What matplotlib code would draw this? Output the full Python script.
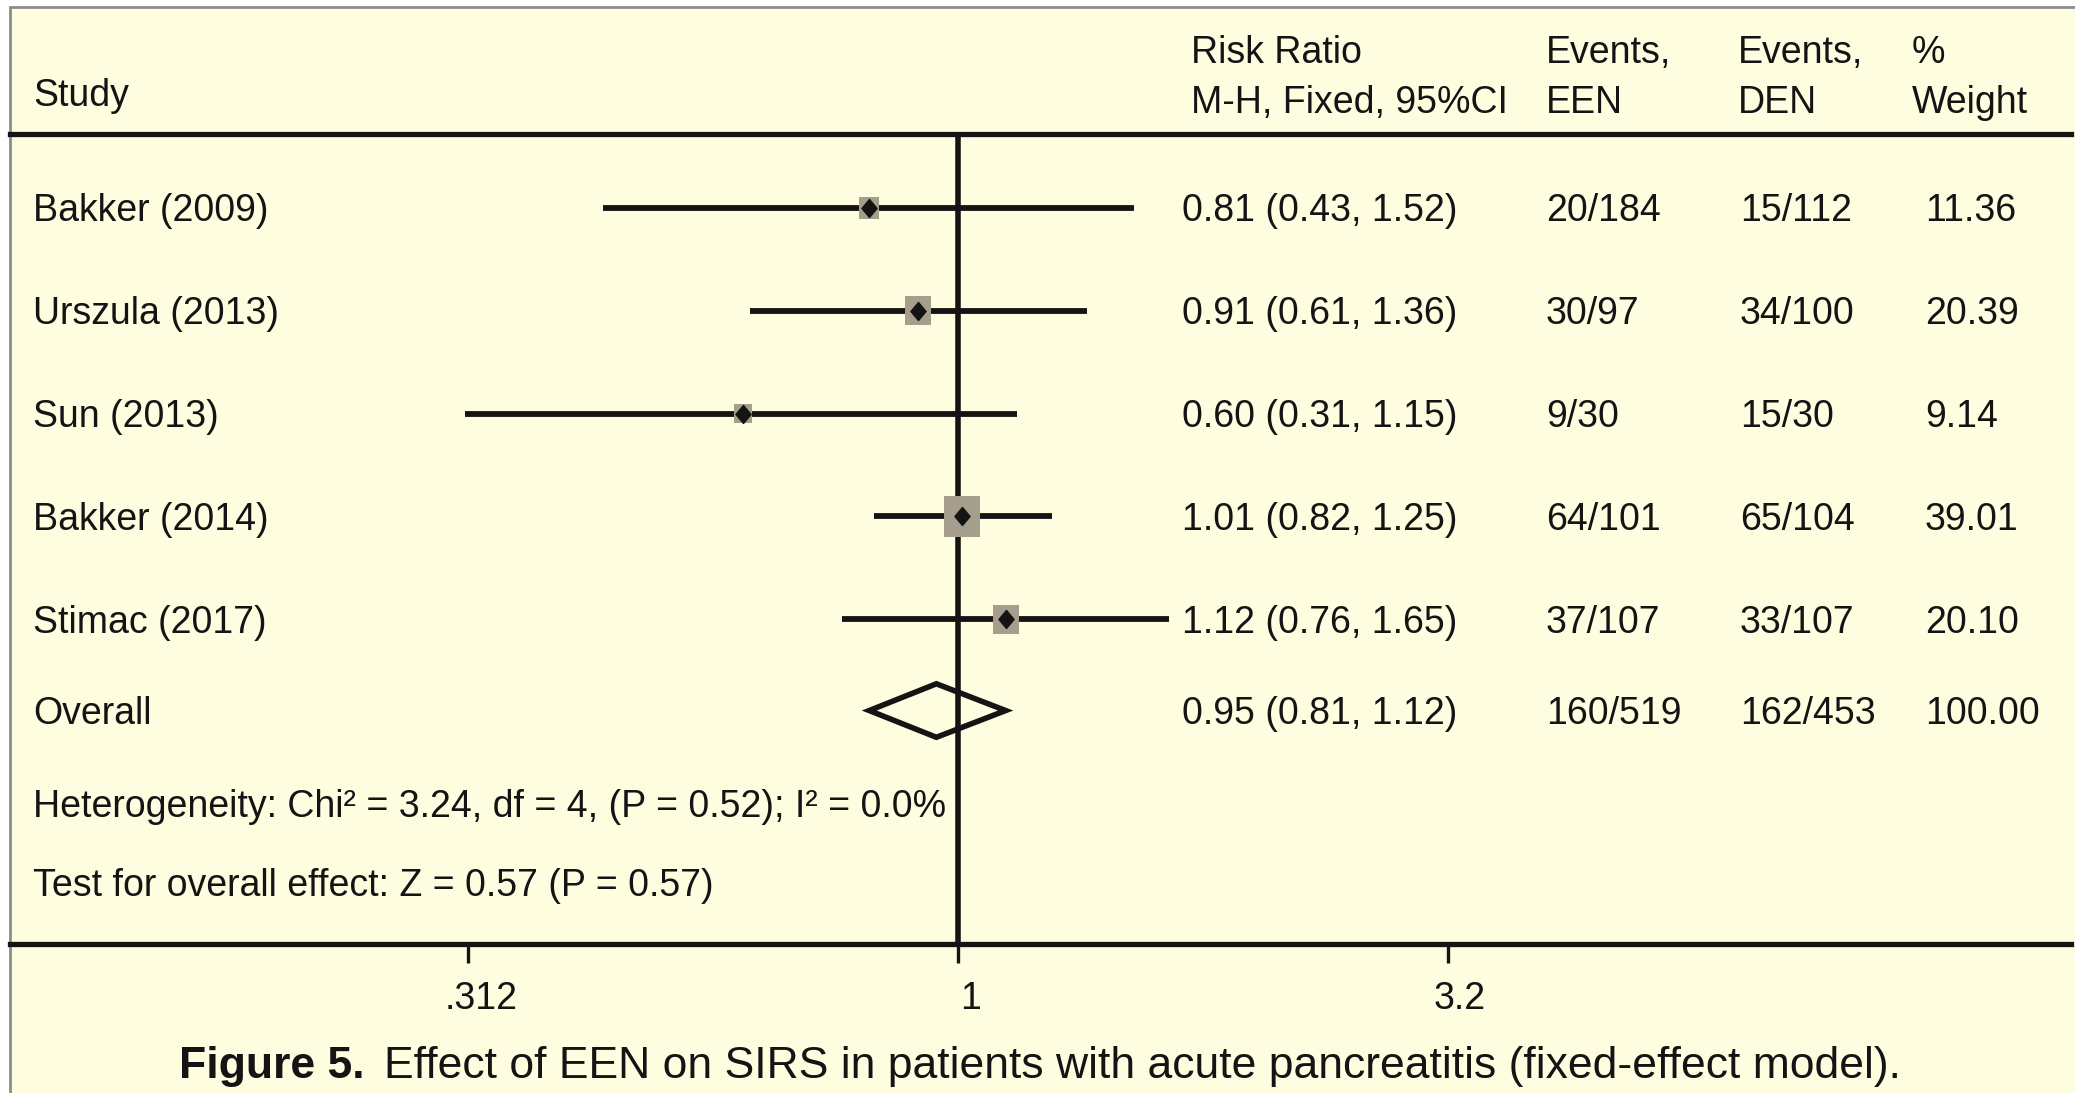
import numpy as np
import matplotlib
matplotlib.use('Agg')
import matplotlib.pyplot as plt
import matplotlib.transforms as mtransforms
from matplotlib.path import Path
from matplotlib.patches import Polygon, Rectangle
from matplotlib.ticker import NullLocator

# study data (risk ratio, 95% CI, events, weights)
studies = ['Bakker (2009)', 'Urszula (2013)', 'Sun (2013)', 'Bakker (2014)', 'Stimac (2017)']
rr = [0.81, 0.91, 0.60, 1.01, 1.12]
ci_lo = [0.43, 0.61, 0.31, 0.82, 0.76]
ci_hi = [1.52, 1.36, 1.15, 1.25, 1.65]
events_een = ['20/184', '30/97', '9/30', '64/101', '37/107']
events_den = ['15/112', '34/100', '15/30', '65/104', '33/107']
weights = [11.36, 20.39, 9.14, 39.01, 20.10]

overall_rr = 0.95
overall_lo = 0.81
overall_hi = 1.12
overall_een = '160/519'
overall_den = '162/453'
overall_weight = 100.00

heterogeneity = 'Heterogeneity: Chi\u00b2 = 3.24, df = 4, (P = 0.52); I\u00b2 = 0.0%'
overall_test = 'Test for overall effect: Z = 0.57 (P = 0.57)'

xticks = [0.3125, 1, 3.2]
xticklabels = ['.312', '1', '3.2']

# figure size in pixels
W, H = 2075, 1093
cream = '#fffde0'
ink = '#141414'
box_gray = '#a69e8c'
fs = 27
base_drop = -9.6   # points from cap-centre to baseline

plt.rcParams['font.family'] = ['Liberation Sans', 'DejaVu Sans']

fig = plt.figure(figsize=(W / 100, H / 100), dpi=100)
fig.patch.set_facecolor('white')

# cream panel with gray border
fig.add_artist(Rectangle((10 / W, -0.1), 1.2, 1.1 - 7 / H, transform=fig.transFigure,
                         facecolor=cream, edgecolor='#8c8c8c', lw=2, zorder=0))

# forest axes: top spine = header rule, bottom spine = axis line
top_px, bot_px = 133.7, 943.5
ax = fig.add_axes([10 / W, 1 - bot_px / H, (2071 - 10) / W, (bot_px - top_px) / H])
ax.set_facecolor('none')
ax.set_xscale('log')
ax.set_xlim(0.1052, 14.07)
ax.set_ylim(7.15, -0.72)

for side in ['left', 'right']:
    ax.spines[side].set_visible(False)
for side in ['top', 'bottom']:
    ax.spines[side].set_linewidth(3.8)
    ax.spines[side].set_color(ink)

ax.set_xticks(xticks)
ax.set_xticklabels(xticklabels)
ax.xaxis.set_minor_locator(NullLocator())
ax.tick_params(axis='x', direction='out', length=14, width=2.4, color=ink,
               pad=13, labelsize=fs, labelcolor=ink)
shift = mtransforms.ScaledTranslation(9 / 72, 0, fig.dpi_scale_trans)
for lab in ax.get_xticklabels():
    lab.set_transform(lab.get_transform() + shift)
ax.set_yticks([])

# row layout
y = np.arange(len(studies))
y_overall = 4.886
y_het = 5.787
y_test = 6.558

ax.axvline(1, color=ink, lw=4.0, zorder=2)

# confidence intervals
ax.hlines(y, ci_lo, ci_hi, color=ink, lw=4.2, zorder=3)

# weight boxes
sq = Path([(-0.45, -0.5), (0.45, -0.5), (0.45, 0.5), (-0.45, 0.5), (-0.45, -0.5)],
          [Path.MOVETO, Path.LINETO, Path.LINETO, Path.LINETO, Path.CLOSEPOLY])
ax.scatter(rr, y, s=[22 * w for w in weights], marker=sq, color=box_gray,
           linewidths=0, zorder=4)

# point estimates
dia = Path([(0, 0.5), (0.42, 0), (0, -0.5), (-0.42, 0), (0, 0.5)],
           [Path.MOVETO, Path.LINETO, Path.LINETO, Path.LINETO, Path.CLOSEPOLY])
ax.plot(rr, y, ls='none', marker=dia, ms=13, color=ink, zorder=5)

# overall diamond
half_h = 0.26
ax.add_patch(Polygon([(overall_lo, y_overall), (overall_rr, y_overall - half_h),
                      (overall_hi, y_overall), (overall_rr, y_overall + half_h)],
                     closed=True, fill=False, edgecolor=ink, lw=4.0, zorder=5,
                     joinstyle='miter'))

# text columns (baseline placed so cap-centre sits on the row)
trans = mtransforms.offset_copy(
    mtransforms.blended_transform_factory(fig.transFigure, ax.transData),
    fig=fig, y=base_drop, units='points')
x_name, x_rr, x_een, x_den, x_w = 33 / W, 1182 / W, 1546 / W, 1740 / W, 1925 / W


def row_text(x, yv, s):
    ax.text(x, yv, s, transform=trans, va='baseline', fontsize=fs, color=ink)


for i, name in enumerate(studies):
    row_text(x_name, y[i], name)
    row_text(x_rr, y[i], f'{rr[i]:.2f} ({ci_lo[i]:.2f}, {ci_hi[i]:.2f})')
    row_text(x_een, y[i], events_een[i])
    row_text(x_den, y[i], events_den[i])
    row_text(x_w, y[i], f'{weights[i]:.2f}')

row_text(x_name, y_overall, 'Overall')
row_text(x_rr, y_overall, f'{overall_rr:.2f} ({overall_lo:.2f}, {overall_hi:.2f})')
row_text(x_een, y_overall, overall_een)
row_text(x_den, y_overall, overall_den)
row_text(x_w, y_overall, f'{overall_weight:.2f}')

row_text(x_name, y_het, heterogeneity)
row_text(x_name, y_test, overall_test)

# header
hdr1, hdr2 = 1 - 63 / H, 1 - 113 / H
fig.text(33 / W, 1 - 106 / H, 'Study', va='baseline', fontsize=fs, color=ink)
fig.text(1191 / W, hdr1, 'Risk Ratio', va='baseline', fontsize=fs, color=ink)
fig.text(1191 / W, hdr2, 'M-H, Fixed, 95%CI', va='baseline', fontsize=fs, color=ink)
fig.text(1546 / W, hdr1, 'Events,', va='baseline', fontsize=fs, color=ink)
fig.text(1546 / W, hdr2, 'EEN', va='baseline', fontsize=fs, color=ink)
fig.text(1738 / W, hdr1, 'Events,', va='baseline', fontsize=fs, color=ink)
fig.text(1738 / W, hdr2, 'DEN', va='baseline', fontsize=fs, color=ink)
fig.text(1912 / W, hdr1, '%', va='baseline', fontsize=fs, color=ink)
fig.text(1912 / W, hdr2, 'Weight', va='baseline', fontsize=fs, color=ink)

# caption
cap_fs = 32
cap = fig.text(179 / W, 1 - 1078 / H, 'Figure 5.', va='baseline', fontsize=cap_fs,
               fontweight='bold', color=ink)
ax.annotate('Effect of EEN on SIRS in patients with acute pancreatitis (fixed-effect model).',
            xy=(1, 0), xycoords=cap, xytext=(14, 0), textcoords='offset points',
            va='bottom', ha='left', fontsize=cap_fs, color=ink, annotation_clip=False)

fig.savefig('out.png', dpi=100, facecolor=fig.get_facecolor())
